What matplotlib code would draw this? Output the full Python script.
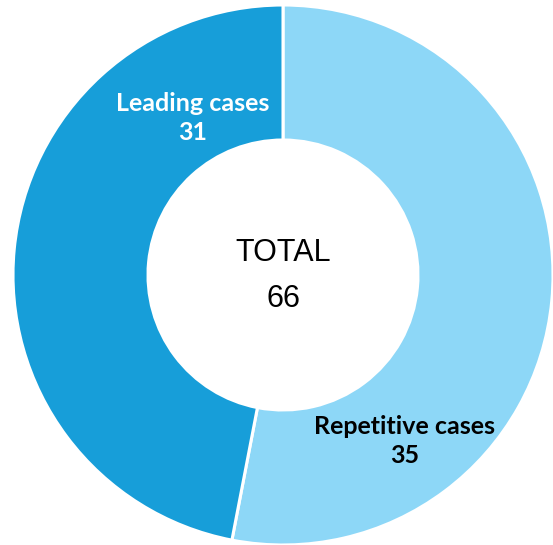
import matplotlib.pyplot as plt

labels = ['Repetitive cases', 'Leading cases']
values = [35, 31]
colors = ['#8DD7F7', '#179ED9']
label_colors = ['#000000', '#FFFFFF']
total_title = 'TOTAL'

fig = plt.figure(figsize=(5.53, 5.45), dpi=100)
ax = fig.add_axes([0, 0, 1, 1])

cx, cy, r = 283, 270, 270
ax.pie(values, colors=colors, startangle=90, counterclock=False,
       center=(cx, cy), radius=r, frame=True,
       wedgeprops=dict(width=r * 0.5, edgecolor='white', linewidth=2.2))
ax.set_xlim(0, 553)
ax.set_ylim(0, 545)
ax.set_aspect('equal')
ax.axis('off')

# data labels
label_pos = [(405, 104), (193, 427)]
for (x, y), lab, val, c in zip(label_pos, labels, values, label_colors):
    ax.text(x, y, f'{lab}\n{val}', ha='center', va='center', color=c,
            fontsize=18, fontweight='bold', family='Lato', linespacing=1.35)

ax.text(cx, 292, total_title, ha='center', va='center', fontsize=22,
        family='Liberation Sans')
ax.text(cx, 246, str(sum(values)), ha='center', va='center', fontsize=22,
        family='Liberation Sans')

fig.savefig('out.png', dpi=100)
